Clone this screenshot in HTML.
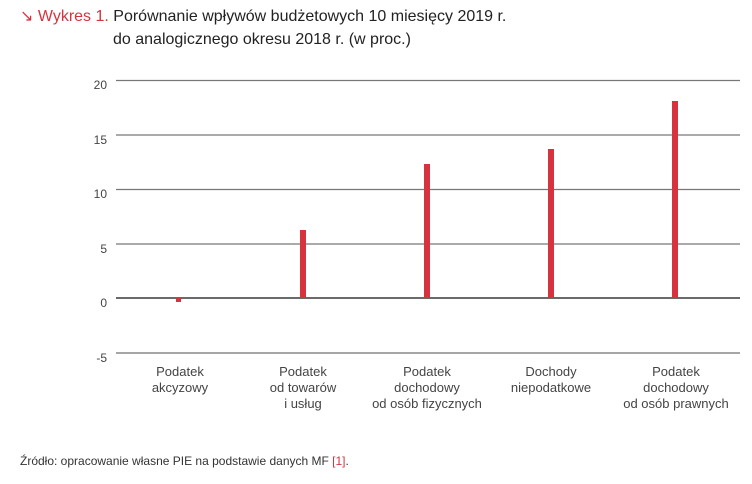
<!DOCTYPE html>
<html><head><meta charset="utf-8"><style>
body{margin:0;width:752px;height:484px;background:#fff;font-family:"Liberation Sans",sans-serif;position:relative;overflow:hidden}
.t{position:absolute;font-size:16px;color:#222;white-space:nowrap}
.r{color:#d7333f}
</style></head><body>
<div class="t" style="left:20px;top:6px"><span class="r">↘ Wykres 1.</span> Porównanie wpływów budżetowych 10 miesięcy 2019 r.</div>
<div class="t" style="left:113px;top:31px">do analogicznego okresu 2018 r. (w proc.)</div>
<svg width="752" height="484" style="position:absolute;left:0;top:0" font-family="Liberation Sans, sans-serif">
<g stroke="#777" stroke-width="1.3">
<line x1="116" x2="740" y1="80.5" y2="80.5"/>
<line x1="116" x2="740" y1="135" y2="135"/>
<line x1="116" x2="740" y1="189.5" y2="189.5"/>
<line x1="116" x2="740" y1="244" y2="244"/>
<line x1="116" x2="740" y1="353" y2="353" stroke="#888" stroke-width="1.6"/>
</g>
<line x1="116" x2="740" y1="298" y2="298" stroke="#111" stroke-width="1.2"/>
<g fill="#444" font-size="12" text-anchor="end">
<text x="107" y="89">20</text><text x="107" y="144">15</text><text x="107" y="198">10</text>
<text x="107" y="253">5</text><text x="107" y="307">0</text><text x="107" y="362">-5</text>
</g>
<g fill="#d7333f">
<rect x="176" y="298" width="5" height="4"/>
<rect x="300" y="230" width="6" height="68"/>
<rect x="424" y="164" width="6" height="134"/>
<rect x="548" y="149" width="6" height="149"/>
<rect x="672" y="101" width="6" height="197"/>
</g>
<g fill="#444" font-size="13" text-anchor="middle">
<text x="180" y="376">Podatek</text><text x="180" y="392">akcyzowy</text>
<text x="303" y="376">Podatek</text><text x="303" y="392">od towarów</text><text x="303" y="408">i usług</text>
<text x="427" y="376">Podatek</text><text x="427" y="392">dochodowy</text><text x="427" y="408">od osób fizycznych</text>
<text x="551" y="376">Dochody</text><text x="551" y="392">niepodatkowe</text>
<text x="676" y="376">Podatek</text><text x="676" y="392">dochodowy</text><text x="676" y="408">od osób prawnych</text>
</g>
<text x="20" y="465" font-size="12" fill="#333">Źródło: opracowanie własne PIE na podstawie danych MF <tspan fill="#d7333f">[1]</tspan>.</text>
</svg>
</body></html>
